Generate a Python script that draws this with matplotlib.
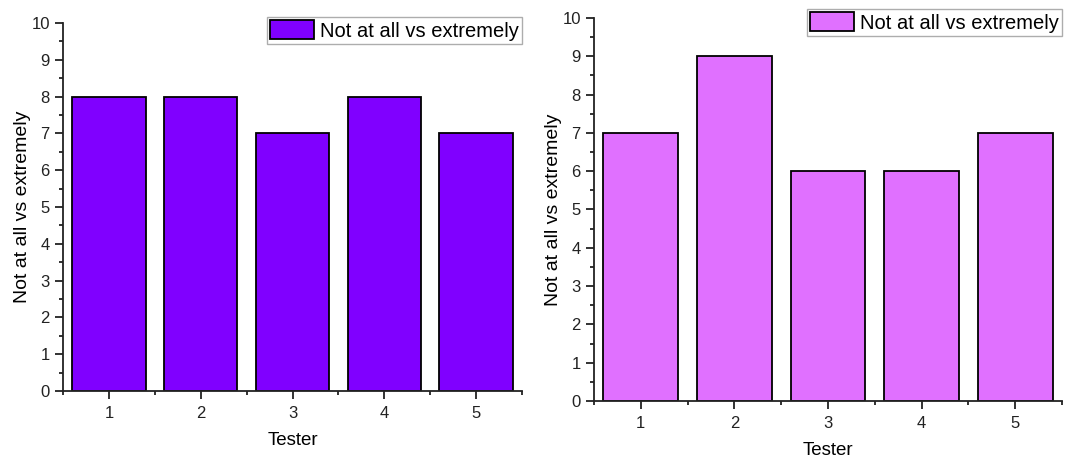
import matplotlib
matplotlib.use("Agg")
import matplotlib.pyplot as plt
from matplotlib.ticker import MultipleLocator

plt.rcParams['font.family'] = ['Liberation Sans', 'DejaVu Sans']

testers = [1, 2, 3, 4, 5]
scores_a = [8, 8, 7, 8, 7]
scores_b = [7, 9, 6, 6, 7]
legend_label = "Not at all vs extremely"
x_label = "Tester"
y_label = "Not at all vs extremely"

fig = plt.figure(figsize=(10.65, 4.59), dpi=100)

W, H = 1065, 459
panels = [
    # (left px, right px, bottom px, top px, values, colour, legend top px)
    (63, 522, 391, 23, scores_a, '#8000FF', 17),
    (594, 1062, 401, 18, scores_b, '#E070FF', 9),
]

for left, right, bottom, top, vals, col, leg_top in panels:
    ax = fig.add_axes([left / W, 1 - bottom / H, (right - left) / W, (bottom - top) / H])
    ax.bar(testers, vals, width=0.8, color=col, edgecolor='black',
           linewidth=1.3, label=legend_label)
    ax.set_xlim(0.5, 5.5)
    ax.set_ylim(0, 10)
    ax.xaxis.set_major_locator(MultipleLocator(1))
    ax.xaxis.set_minor_locator(MultipleLocator(0.5))
    ax.yaxis.set_major_locator(MultipleLocator(1))
    ax.yaxis.set_minor_locator(MultipleLocator(0.5))
    for s in ('top', 'right'):
        ax.spines[s].set_visible(False)
    for s in ('left', 'bottom'):
        ax.spines[s].set_linewidth(1.3)
        ax.spines[s].set_color('#222222')
    ax.tick_params(which='major', direction='out', length=5.5, width=1.3,
                   labelsize=12, colors='#222222', pad=4)
    ax.tick_params(axis='x', which='major', pad=5)
    ax.tick_params(which='minor', direction='out', length=3, width=1.3,
                   colors='#222222')
    ax.set_xlabel(x_label, fontsize=13.5, labelpad=8)
    ax.set_ylabel(y_label, fontsize=14, labelpad=0)
    leg_ax_y = (bottom - leg_top) / (bottom - top)
    leg = ax.legend(loc='upper right', bbox_to_anchor=(1.0, leg_ax_y),
                    fontsize=14.5, frameon=True, fancybox=False,
                    borderpad=0.15, handlelength=2.2, handleheight=1.1,
                    handletextpad=0.3, borderaxespad=0)
    leg.get_frame().set_edgecolor('#999999')
    leg.get_frame().set_linewidth(1.0)

fig.savefig('out.png', dpi=100)
